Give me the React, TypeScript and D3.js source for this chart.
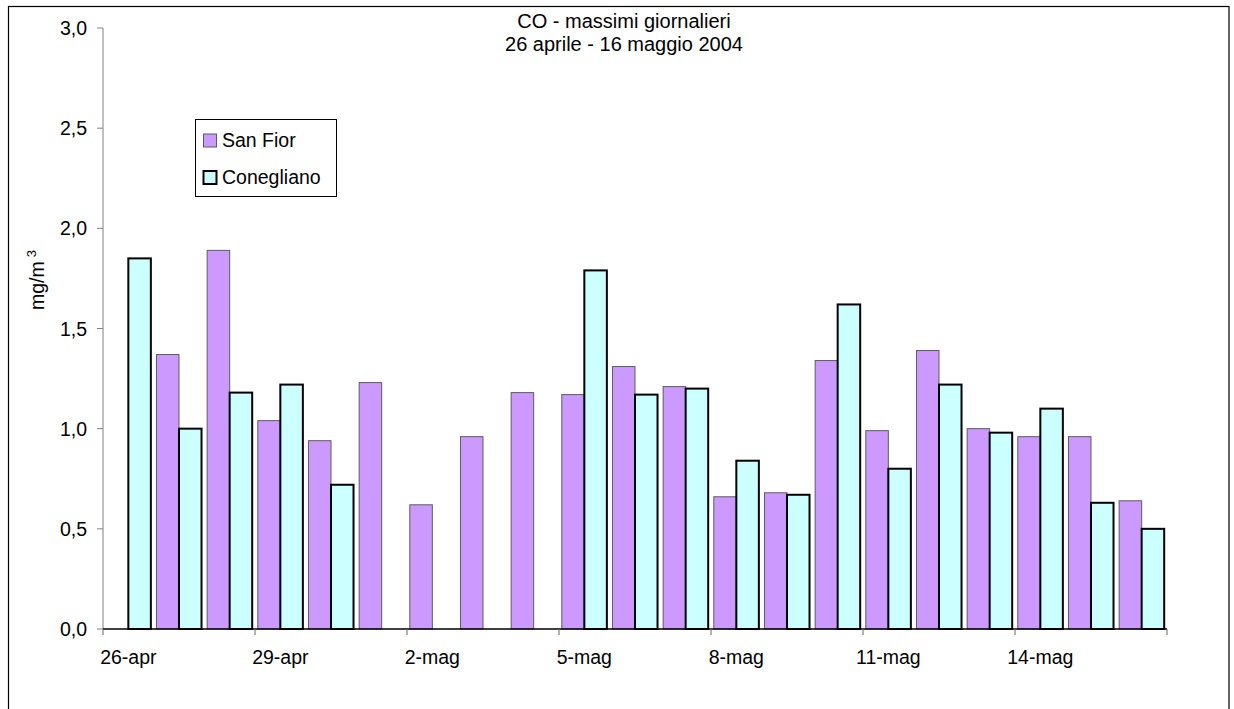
import React from 'react';
import * as d3 from 'd3';

const days = [
  '26-apr', '27-apr', '28-apr', '29-apr', '30-apr', '1-mag', '2-mag',
  '3-mag', '4-mag', '5-mag', '6-mag', '7-mag', '8-mag', '9-mag',
  '10-mag', '11-mag', '12-mag', '13-mag', '14-mag', '15-mag', '16-mag',
];
const sanFior: (number | null)[] = [
  null, 1.37, 1.89, 1.04, 0.94, 1.23, 0.62,
  0.96, 1.18, 1.17, 1.31, 1.21, 0.66, 0.68,
  1.34, 0.99, 1.39, 1.0, 0.96, 0.96, 0.64,
];
const conegliano: (number | null)[] = [
  1.85, 1.0, 1.18, 1.22, 0.72, null, null,
  null, null, 1.79, 1.17, 1.2, 0.84, 0.67,
  1.62, 0.8, 1.22, 0.98, 1.1, 0.63, 0.5,
];
const yTicks = [0, 0.5, 1, 1.5, 2, 2.5, 3];
const seriesNames = ['San Fior', 'Conegliano'];
const titleLines = ['CO - massimi giornalieri', '26 aprile - 16 maggio 2004'];
const labelEvery = 3;

const FONT = '"Liberation Sans", Arial, sans-serif';

export default function App() {
  const W = 1234, H = 709;
  const x0 = 103, x1 = 1167, yTop = 28, yBot = 629;
  const gap = 0.111;
  const x = d3.scaleBand<string>().domain(days).range([x0, x1]).paddingInner(gap).paddingOuter(gap / 2);
  const sub = d3.scaleBand<string>().domain(seriesNames).range([0, x.bandwidth()]);
  const y = d3.scaleLinear().domain([0, 3]).range([yBot, yTop]);
  const fmt = (v: number) => d3.format('.1f')(v).replace('.', ',');
  const step = x.step();
  const fs = 19.5;

  const styles = [
    { fill: '#CC99FF', stroke: '#5c5c5c', sw: 1 },
    { fill: '#CCFFFF', stroke: '#000000', sw: 2 },
  ];
  const series = [sanFior, conegliano];

  const boundaries = d3.range(0, days.length + 1, labelEvery);

  return (
    <svg width={W} height={H} style={{ position: 'absolute', left: 0, top: 0, background: '#fff' }}
      fontFamily={FONT}>
      <rect x={8.5} y={6.5} width={1220.5} height={800} fill="#fff" stroke="#000" strokeWidth={1.2} />

      {/* title */}
      {titleLines.map((t, i) => (
        <text key={i} x={624} y={27.5 + i * 23} textAnchor="middle" fontSize={20} fill="#000">{t}</text>
      ))}

      {/* y axis */}
      <line x1={x0} x2={x0} y1={yTop} y2={yBot} stroke="#808080" strokeWidth={1} />
      {yTicks.map(t => (
        <g key={t}>
          <line x1={x0 - 6} x2={x0} y1={y(t)} y2={y(t)} stroke="#808080" strokeWidth={1} />
          <text x={87} y={y(t) + 7} textAnchor="end" fontSize={fs} fill="#000">{fmt(t)}</text>
        </g>
      ))}

      {/* y title */}
      <text transform={`translate(44, 280) rotate(-90)`} textAnchor="middle" fontSize={fs} fill="#000">
        mg/m<tspan dx={4} dy={-8} fontSize={13}>3</tspan>
      </text>

      {/* bars */}
      {series.map((vals, si) => (
        <g key={si}>
          {vals.map((v, i) => v == null ? null : (
            <rect key={i}
              x={(x(days[i]) as number) + (sub(seriesNames[si]) as number)}
              y={y(v)}
              width={sub.bandwidth()}
              height={y(0) - y(v)}
              fill={styles[si].fill}
              stroke={styles[si].stroke}
              strokeWidth={styles[si].sw} />
          ))}
        </g>
      ))}

      {/* x axis */}
      <line x1={x0} x2={x1} y1={yBot} y2={yBot} stroke="#000" strokeWidth={1.5} />
      {boundaries.map(b => (
        <line key={b} x1={x0 + b * step} x2={x0 + b * step} y1={yBot} y2={yBot + 6} stroke="#666" strokeWidth={1} />
      ))}
      {days.map((d, i) => i % labelEvery === 0 ? (
        <text key={d} x={(x(d) as number) + x.bandwidth() / 2} y={664} textAnchor="middle"
          fontSize={fs} fill="#000">{d}</text>
      ) : null)}

      {/* legend */}
      <rect x={195.5} y={119.5} width={141} height={77} fill="#fff" stroke="#000" strokeWidth={1} />
      {seriesNames.map((n, i) => (
        <g key={n}>
          <rect x={203.5} y={134 + i * 37} width={13} height={13}
            fill={styles[i].fill} stroke={styles[i].stroke} strokeWidth={styles[i].sw} />
          <text x={222} y={147 + i * 37} fontSize={fs} fill="#000">{n}</text>
        </g>
      ))}
    </svg>
  );
}
